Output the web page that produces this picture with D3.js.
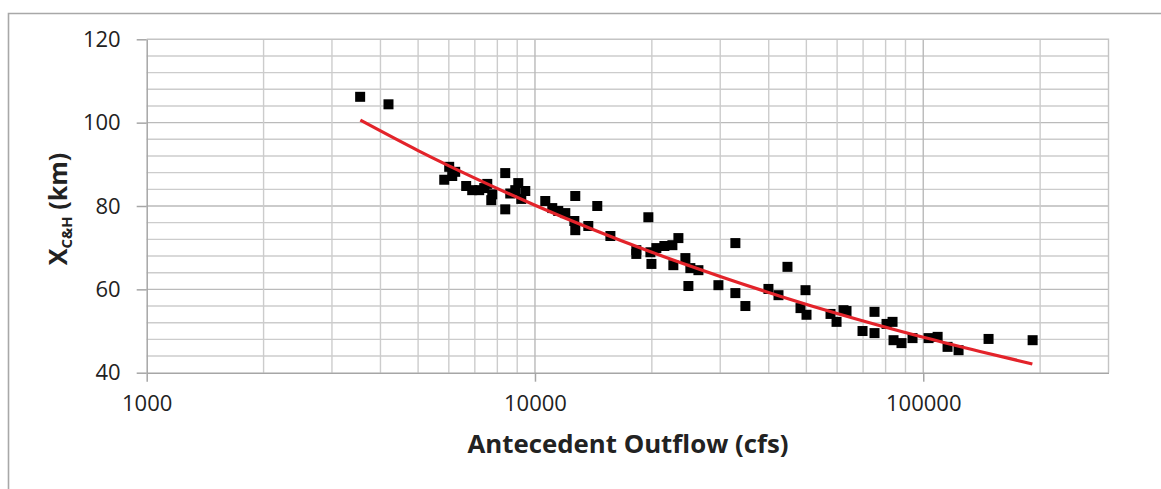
<!DOCTYPE html>
<html>
<head>
<meta charset="utf-8">
<script src="https://cdn.jsdelivr.net/npm/d3@7"></script>
<style>
  html, body { margin: 0; padding: 0; background: #fff; }
  svg { display: block; }
  text { font-family: "Open Sans", "Liberation Sans", sans-serif; fill: #222; }
</style>
</head>
<body>
<svg id="chart" width="1161" height="489"></svg>
<script>
// ---- data ----
const outflow = [3546, 4195, 6013, 5839, 6122, 6231, 6650, 6892, 7184, 7402,
  7536, 7717, 7762, 8384, 8384, 8636, 8897, 9057, 9220, 9441,
  10630, 11080, 11480, 11970, 12700, 12630, 12700, 13720, 14470, 15640,
  18240, 18240, 19590, 19830, 19950, 20540, 21540, 22590, 23410, 22720,
  24400, 25130, 26360, 24840, 29680, 32820, 32820, 34830, 39930, 42380,
  44700, 48290, 49750, 50040, 57700, 59800, 62320, 63440, 69760, 74900,
  74900, 80430, 83350, 83840, 87900, 93840, 103200, 108900, 115500, 123300,
  147300, 191300];
const xch = [106.2, 104.4, 89.4, 86.3, 87.2, 88.2, 84.8, 83.8, 83.8, 84.3,
  85.3, 81.4, 82.8, 87.9, 79.2, 83.0, 83.8, 85.5, 81.7, 83.6,
  81.2, 79.5, 78.8, 78.3, 82.4, 76.4, 74.2, 75.2, 80.0, 72.8,
  69.4, 68.5, 77.3, 68.9, 66.1, 69.9, 70.4, 70.6, 72.3, 65.8,
  67.5, 65.1, 64.6, 60.8, 61.0, 71.1, 59.1, 56.0, 60.1, 58.6,
  65.4, 55.5, 59.8, 53.9, 54.1, 52.2, 55.0, 54.8, 50.0, 54.6,
  49.5, 51.7, 52.2, 47.8, 47.1, 48.3, 48.3, 48.6, 46.2, 45.4,
  48.1, 47.8];
// trend line, read at several points along the red curve
const trendX = [3550, 5000, 7000, 10000, 14000, 20000, 30000, 43000, 60000, 100000, 140000, 191000];
const trendY = [100.6, 93.3, 86.7, 80.2, 74.5, 68.9, 63.1, 58.3, 54.2, 48.5, 45.1, 42.1];
const xTickLabels = [1000, 10000, 100000];
const yTickLabels = [40, 60, 80, 100, 120];

// ---- layout ----
const svg = d3.select("#chart");
const L = 146.7, R = 1108.5, T = 39.3, B = 372.7;
const x = d3.scaleLog().domain([1000, 300000]).range([L, R]);
const y = d3.scaleLinear().domain([40, 120]).range([B, T]);

// outer frame
svg.append("path")
  .attr("d", `M8.5,489 L8.5,13.5 L1161,13.5`)
  .attr("fill", "none").attr("stroke", "#a8a8a8").attr("stroke-width", 1.6);

const grid = svg.append("g");
// horizontal gridlines every 4 units
const yMinor = d3.range(44, 120, 4);
grid.selectAll(".hmin").data(yMinor).join("line")
  .attr("x1", L).attr("x2", R)
  .attr("y1", d => y(d)).attr("y2", d => y(d))
  .attr("stroke", d => d % 20 === 0 ? "#bababa" : "#cccccc")
  .attr("stroke-width", 1.4);
// vertical gridlines (log minor)
const xGrid = [];
[1000, 10000, 100000].forEach(dec => { for (let k = 1; k <= 9; k++) { const v = dec * k; if (v > 1000 && v < 300000) xGrid.push(v); } });
grid.selectAll(".vmin").data(xGrid).join("line")
  .attr("x1", d => x(d)).attr("x2", d => x(d))
  .attr("y1", T).attr("y2", B)
  .attr("stroke", d => (d === 10000 || d === 100000) ? "#bababa" : "#cccccc")
  .attr("stroke-width", 1.4);
// top and right border of plot
svg.append("path")
  .attr("d", `M${L},${T} L${R},${T} L${R},${B}`)
  .attr("fill", "none").attr("stroke", "#c4c4c4").attr("stroke-width", 1.4);

// axes
const xAxis = d3.axisBottom(x).tickValues(xTickLabels).tickSize(9).tickSizeOuter(0).tickPadding(8)
  .tickFormat(d3.format("d"));
const gx = svg.append("g").attr("transform", `translate(0,${B})`).call(xAxis);
gx.select(".domain").attr("stroke", "#a6a6a6").attr("stroke-width", 1.5);
gx.selectAll(".tick line").attr("stroke", "#a6a6a6").attr("stroke-width", 1.5);
gx.selectAll(".tick text").attr("font-size", 22).attr("font-family", "Open Sans").attr("fill", "#222").attr("dy", "0.95em");

const yAxis = d3.axisLeft(y).tickValues(yTickLabels).tickSize(10).tickSizeOuter(0).tickPadding(16);
const gy = svg.append("g").attr("transform", `translate(${L},0)`).call(yAxis);
gy.select(".domain").attr("stroke", "#a6a6a6").attr("stroke-width", 1.5);
gy.selectAll(".tick line").attr("stroke", "#a6a6a6").attr("stroke-width", 1.5);
gy.selectAll(".tick text").attr("font-size", 22).attr("font-family", "Open Sans").attr("fill", "#222");

// points
const pts = outflow.map((v, i) => ({ v, y: xch[i] }));
const s = 10;
svg.append("g").selectAll("rect").data(pts).join("rect")
  .attr("x", d => x(d.v) - s / 2).attr("y", d => y(d.y) - s / 2)
  .attr("width", s).attr("height", s).attr("fill", "#000");

// trend line
const trend = trendX.map((v, i) => [v, trendY[i]]);
svg.append("path").datum(trend)
  .attr("d", d3.line().x(d => x(d[0])).y(d => y(d[1])).curve(d3.curveMonotoneX))
  .attr("fill", "none").attr("stroke", "#e3232a").attr("stroke-width", 3.2);

// axis titles
svg.append("text")
  .attr("x", 628).attr("y", 453)
  .attr("text-anchor", "middle").attr("font-weight", "bold").attr("font-size", 25)
  .attr("textLength", 321).attr("lengthAdjust", "spacingAndGlyphs")
  .text("Antecedent Outflow (cfs)");

const yt = svg.append("text")
  .attr("transform", "translate(67,209) rotate(-90)")
  .attr("text-anchor", "middle").attr("font-weight", "bold").attr("font-size", 25);
yt.append("tspan").text("X");
yt.append("tspan").attr("font-size", 15).attr("dy", 5).text("C&H");
yt.append("tspan").attr("dy", -5).text(" (km)");
</script>
</body>
</html>
